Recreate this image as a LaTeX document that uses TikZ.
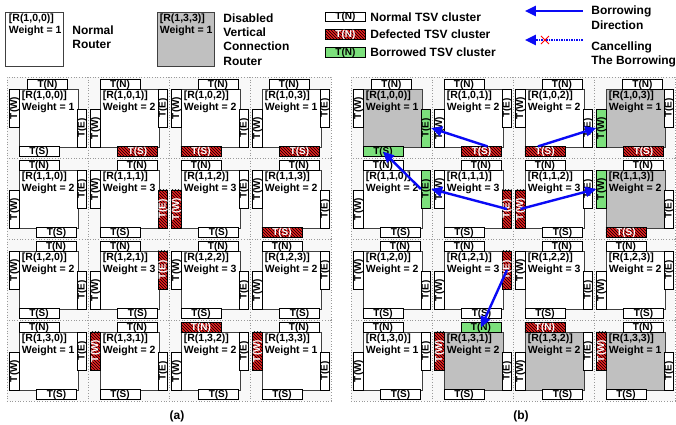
\documentclass[tikz,border=0pt]{standalone}
\usepackage{fontspec}
\setmainfont{Liberation Sans}
\usetikzlibrary{arrows.meta,patterns,shapes.misc}

\definecolor{defred}{RGB}{232,32,32}
\definecolor{borrowgreen}{RGB}{124,224,124}
\definecolor{routergray}{RGB}{192,192,192}
\definecolor{arrowblue}{RGB}{10,10,245}
\definecolor{cellbg}{RGB}{248,248,248}

\tikzset{every picture/.style={line width=0.75pt}}
\tikzset{
    cellbox/.style={draw=gray!80, dotted, line width=0.7pt, fill=cellbg, minimum size=81pt, inner sep=0pt},
    router/.style={draw=black!75, line width=0.9pt, minimum width=59pt, minimum height=58pt, inner sep=0pt},
    enabled/.style={fill=white},
    disabled/.style={fill=routergray},
    routertext/.style={anchor=north west, align=left, inner xsep=3pt, inner ysep=2pt, font=\bfseries\fontsize{10.5}{12}\selectfont},
    hcl/.style={draw=black, line width=0.9pt, fill=white, minimum width=40pt, minimum height=9pt, inner sep=0pt, font=\bfseries\fontsize{10}{10}\selectfont},
    vcl/.style={hcl, rotate=90, minimum width=38pt, minimum height=8pt},
    tsv/.style={fill=white},
    defect/.style={preaction={fill=defred}, pattern=north west lines, pattern color=black, text=white},
    borrowed/.style={fill=borrowgreen},
    legendtext/.style={anchor=west, align=left, inner sep=0pt, font=\bfseries\fontsize{12}{14.5}\selectfont},
    borrow/.style={draw=arrowblue, line width=2.4pt, -{Triangle[length=11pt,width=10pt]}},
    cancel/.style={draw=arrowblue, line width=2.4pt, dash pattern=on 1.5pt off 1pt, -{Triangle[length=11pt,width=10pt]}},
    caption/.style={font=\bfseries\fontsize{12}{14}\selectfont}
}

% #1 grid, #2 row, #3 col, #4 weight, #5 router, #6 N, #7 W, #8 E, #9 S
\newcommand{\routercell}[9]{%
    \begin{scope}[shift={(81*#3,77+81*#2)}]
        \node[cellbox] (#1#2#3) at (40.5,40.5) {};
        \node[router,#5] (#1#2#3R) at (41.5,41) {};
        \node[routertext] (#1#2#3L) at (#1#2#3R.north west) {[R(1,#2,#3)]\\Weight = #4};
        \ifodd\numexpr#2+#3\relax
            \node[hcl,#6] (#1#2#3N) at (32,7.5) {T(N)};
            \node[vcl,#7] (#1#2#3W) at (7.5,51) {T(W)};
            \node[vcl,#8] (#1#2#3E) at (75,31) {T(E)};
            \node[hcl,#9] (#1#2#3S) at (49.5,74.5) {T(S)};
        \else
            \node[hcl,#6] (#1#2#3N) at (49,7.5) {T(N)};
            \node[vcl,#7] (#1#2#3W) at (7.5,31) {T(W)};
            \node[vcl,#8] (#1#2#3E) at (75,51) {T(E)};
            \node[hcl,#9] (#1#2#3S) at (32,74.5) {T(S)};
        \fi
    \end{scope}%
}

\begin{document}
\begin{tikzpicture}[x=1pt, y=-1pt]
    \path[fill=white] (0,0) rectangle (676,425);

    % legend
    \node[router,enabled,minimum width=58pt,minimum height=54pt] (lgR) at (34,39) {};
    \node[routertext,inner xsep=4pt] (lgRL) at (lgR.north west) {[R(1,0,0)]\\Weight = 1};
    \node[legendtext,font=\bfseries\fontsize{12}{14}\selectfont] (lgRT) at (72,37) {Normal\\Router};
    \node[router,disabled,minimum width=57pt,minimum height=54pt] (lgD) at (185.5,39) {};
    \node[routertext] (lgDL) at (lgD.north west) {[R(1,3,3)]\\Weight = 1};
    \node[legendtext,font=\bfseries\fontsize{12}{14.4}\selectfont] (lgDT) at (223,39.5) {Disabled\\Vertical\\Connection\\Router};

    \node[hcl,tsv] (lgN) at (345.5,17) {T(N)};
    \node[hcl,defect] (lgF) at (345.5,34.5) {T(N)};
    \node[hcl,borrowed] (lgB) at (345.5,52.5) {T(N)};
    \node[legendtext] (lgNT) at (370,17) {Normal TSV cluster};
    \node[legendtext] (lgFT) at (370,34.5) {Defected TSV cluster};
    \node[legendtext] (lgBT) at (370,52.5) {Borrowed TSV cluster};

    \coordinate (lgA1) at (583,11);
    \coordinate (lgA2) at (525,11);
    \draw[borrow] (lgA1) -- (lgA2);
    \node[legendtext,font=\bfseries\fontsize{12}{15}\selectfont] (lgAT) at (591,17.5) {Borrowing\\Direction};
    \coordinate (lgC1) at (583,40);
    \coordinate (lgC2) at (525,40);
    \draw[cancel] (lgC1) -- (lgC2);
    \node[cross out, draw=red, line width=1pt, minimum size=7pt, inner sep=0pt] (lgX) at (545,40) {};
    \node[legendtext,font=\bfseries\fontsize{12}{14}\selectfont] (lgCT) at (591,54) {Cancelling\\The Borrowing};

    % (a)
    \begin{scope}[xshift=7pt]
        \routercell{a}{0}{0}{1}{enabled}{tsv,xshift=-8.5pt}{tsv}{tsv}{tsv}
        \routercell{a}{0}{1}{2}{enabled}{tsv}{tsv}{tsv}{defect}
        \routercell{a}{0}{2}{2}{enabled}{tsv}{tsv}{tsv}{defect}
        \routercell{a}{0}{3}{1}{enabled}{tsv,xshift=7pt}{tsv}{tsv}{defect}
        \routercell{a}{1}{0}{2}{enabled}{tsv}{tsv}{tsv}{tsv}
        \routercell{a}{1}{1}{3}{enabled}{tsv}{tsv}{defect}{tsv}
        \routercell{a}{1}{2}{3}{enabled}{tsv}{defect}{tsv}{tsv}
        \routercell{a}{1}{3}{2}{enabled}{tsv}{tsv}{tsv}{defect}
        \routercell{a}{2}{0}{2}{enabled}{tsv}{tsv}{tsv}{tsv}
        \routercell{a}{2}{1}{3}{enabled}{tsv}{tsv}{defect}{tsv}
        \routercell{a}{2}{2}{3}{enabled}{tsv}{tsv}{tsv}{tsv}
        \routercell{a}{2}{3}{2}{enabled}{tsv}{tsv}{tsv}{tsv}
        \routercell{a}{3}{0}{1}{enabled}{tsv}{tsv}{tsv}{tsv}
        \routercell{a}{3}{1}{2}{enabled}{tsv}{defect}{tsv}{tsv}
        \routercell{a}{3}{2}{2}{enabled}{defect}{tsv}{tsv}{tsv}
        \routercell{a}{3}{3}{1}{enabled}{tsv}{defect}{tsv}{tsv}
    \end{scope}

    % (b)
    \begin{scope}[xshift=351pt]
        \routercell{b}{0}{0}{1}{disabled}{tsv,xshift=-8.5pt}{tsv}{borrowed}{borrowed}
        \routercell{b}{0}{1}{2}{enabled}{tsv}{tsv}{tsv}{defect}
        \routercell{b}{0}{2}{2}{enabled}{tsv}{tsv}{tsv}{defect}
        \routercell{b}{0}{3}{1}{disabled}{tsv,xshift=16.5pt}{borrowed}{tsv}{defect}
        \routercell{b}{1}{0}{2}{enabled}{tsv}{tsv}{borrowed}{tsv}
        \routercell{b}{1}{1}{3}{enabled}{tsv}{tsv}{defect}{tsv}
        \routercell{b}{1}{2}{3}{enabled}{tsv}{defect}{tsv}{tsv}
        \routercell{b}{1}{3}{2}{disabled}{tsv}{borrowed}{tsv}{defect}
        \routercell{b}{2}{0}{2}{enabled}{tsv}{tsv}{tsv}{tsv}
        \routercell{b}{2}{1}{3}{enabled}{tsv}{tsv}{defect}{tsv}
        \routercell{b}{2}{2}{3}{enabled}{tsv}{tsv}{tsv}{tsv}
        \routercell{b}{2}{3}{2}{enabled}{tsv}{tsv}{tsv}{tsv}
        \routercell{b}{3}{0}{1}{enabled}{tsv}{tsv}{tsv}{tsv}
        \routercell{b}{3}{1}{2}{disabled}{borrowed}{defect}{tsv}{tsv}
        \routercell{b}{3}{2}{2}{disabled}{defect}{tsv}{tsv}{tsv}
        \routercell{b}{3}{3}{1}{disabled}{tsv}{defect}{tsv}{tsv}
    \end{scope}

    % borrowing (vertical clusters are rotated: north = left side, south = right side)
    \draw[borrow] ([xshift=6pt]b01S.north) -- (b00E.south);
    \draw[borrow] (b11E.center) -- (b10E.south);
    \draw[borrow] (b10E.north) -- (b00S.center);
    \draw[borrow] ([xshift=-7pt]b02S.north) -- (b03W.north);
    \draw[borrow] (b12W.center) -- (b13W.north);
    \draw[borrow] (b21E.center) -- (b31N.center);

    \node[caption] (capA) at (177,416) {(a)};
    \node[caption] (capB) at (521,416) {(b)};
\end{tikzpicture}
\end{document}
